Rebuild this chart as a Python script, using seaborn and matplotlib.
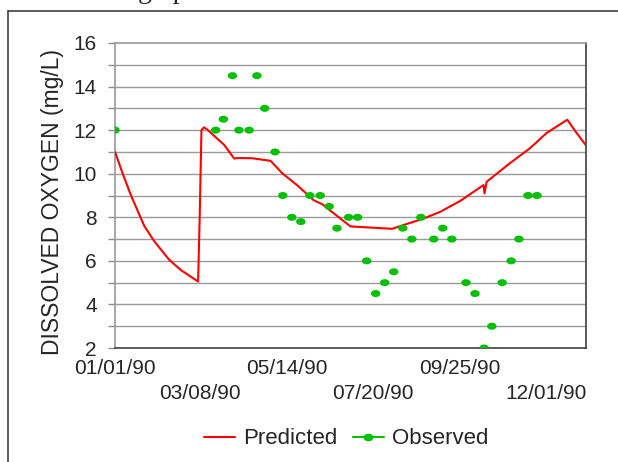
import numpy as np
import pandas as pd
import matplotlib
matplotlib.use("Agg")
import matplotlib.pyplot as plt
from matplotlib.lines import Line2D
from matplotlib.path import Path
import seaborn as sns

# ---------------- data ----------------
start_date = "1990-01-01"
pred_day = [0, 6, 12.4, 22.7, 30.4, 42, 51, 64.4, 65.7, 67, 69, 71.6, 84.5, 92.3, 96,
            106.4, 120.6, 129.6, 141, 154, 160.6, 167, 182.5, 200.6, 214.8, 218.7,
            239, 252, 267.5, 285.6, 286.4, 288, 306, 321.6, 334.5, 350.5, 357.7, 365]
pred_do = [11.0, 10.0, 9.0, 7.6, 6.9, 6.05, 5.58, 5.05, 8.2, 12.0, 12.13, 12.02, 11.33,
           10.7, 10.72, 10.71, 10.59, 10.02, 9.48, 8.78, 8.6, 8.3, 7.58, 7.52, 7.47, 7.55,
           7.94, 8.25, 8.75, 9.48, 9.1, 9.63, 10.48, 11.17, 11.87, 12.48, 11.87, 11.3]

obs_day = [0, 78, 84, 91, 96, 104, 110, 116, 124, 130, 137, 144, 151, 159, 166, 172,
           181, 188, 195, 202, 209, 216, 223, 230, 237, 247, 254, 261, 272, 279, 286,
           292, 300, 307, 313, 320, 327]
obs_do = [12, 12, 12.5, 14.5, 12, 12, 14.5, 13, 11, 9, 8, 7.8, 9, 9, 8.5, 7.5,
          8, 8, 6, 4.5, 5, 5.5, 7.5, 7, 8, 7, 7.5, 7, 5, 4.5, 2, 3, 5, 6, 7, 9, 9]

tick_dates = ["1990-01-01", "1990-03-08", "1990-05-14", "1990-07-20", "1990-09-25", "1990-12-01"]
tick_labels = ["01/01/90", "03/08/90", "05/14/90", "07/20/90", "09/25/90", "12/01/90"]
y_label = "DISSOLVED OXYGEN (mg/L)"
series_names = ["Predicted", "Observed"]

# ---------------- frames ----------------
t0 = pd.Timestamp(start_date)
pred = pd.DataFrame({"date": t0 + pd.to_timedelta(pred_day, unit="D"), "do": pred_do})
obs = pd.DataFrame({"date": t0 + pd.to_timedelta(obs_day, unit="D"), "do": obs_do})

sns.set_theme(style="white")
plt.rcParams["font.family"] = ["Liberation Sans", "DejaVu Sans"]

RED = "#FF0000"
GREEN = "#00C000"
W, H = 618, 462
fig = plt.figure(figsize=(W / 100, H / 100), dpi=100)
fig.patch.set_facecolor("white")

L, R, T, B = 115, 586, 43, 348
ax = fig.add_axes([L / W, 1 - B / H, (R - L) / W, (B - T) / H])

# grid lines every 1 mg/L
for v in range(3, 16):
    ax.axhline(v, color="#9a9a9a", lw=1.0, zorder=0)

sns.lineplot(data=pred, x="date", y="do", color=RED, lw=1.5, estimator=None,
             sort=False, ax=ax, zorder=3, legend=False)

tt = np.linspace(0, 2 * np.pi, 40)
ell = np.column_stack([1.35 * np.cos(tt), np.sin(tt)])
ell_marker = Path(ell)
sns.scatterplot(data=obs, x="date", y="do", color=GREEN, marker=ell_marker, s=46,
                edgecolor="none", linewidth=0, ax=ax, zorder=4, legend=False)

ax.set_xlim(t0, t0 + pd.Timedelta(days=365))
ax.set_ylim(2, 16)

ax.set_xticks(pd.to_datetime(tick_dates))
ax.set_xticklabels(tick_labels, fontsize=15)
ax.tick_params(axis="x", length=0, pad=8)
for i, tk in enumerate(ax.xaxis.get_major_ticks()):
    if i % 2 == 1:
        tk.set_pad(26)

ax.set_yticks(range(2, 17, 2))
ax.set_yticks(range(2, 17), minor=True)
ax.tick_params(axis="y", which="both", direction="out", length=5, width=1,
               color="#8a8a8a", left=True, labelsize=15, pad=8)
ax.tick_params(axis="y", which="minor", labelleft=False)

ax.set_xlabel("")
ax.set_ylabel(y_label, fontsize=16.5, labelpad=4)
ax.yaxis.set_label_coords(-0.108, 0.48)

for side in ["left", "top"]:
    ax.spines[side].set_color("#9a9a9a")
    ax.spines[side].set_linewidth(1.2)
for side in ["right", "bottom"]:
    ax.spines[side].set_color("#404040")
    ax.spines[side].set_linewidth(1.2)

handles = [Line2D([], [], color=RED, lw=1.5),
           Line2D([], [], color=GREEN, lw=1.5, marker=ell_marker, ms=6)]
fig.legend(handles, series_names, loc="center", bbox_to_anchor=(346 / W, 1 - 439 / H),
           ncol=2, frameon=False, fontsize=16, handlelength=1.4, handletextpad=0.35,
           columnspacing=0.7)

# page frame lines and clipped document text
fig.add_artist(Line2D([8 / W, 1], [1 - 11 / H, 1 - 11 / H], color="#404040", lw=1.2,
                      transform=fig.transFigure))
fig.add_artist(Line2D([8 / W, 8 / W], [0, 1 - 11 / H], color="#404040", lw=1.2,
                      transform=fig.transFigure))
fig.text(138 / W, 1 + 2 / H, "g up", fontsize=20, family="Liberation Serif",
         va="baseline", ha="left")

fig.savefig("out.png", dpi=100)
